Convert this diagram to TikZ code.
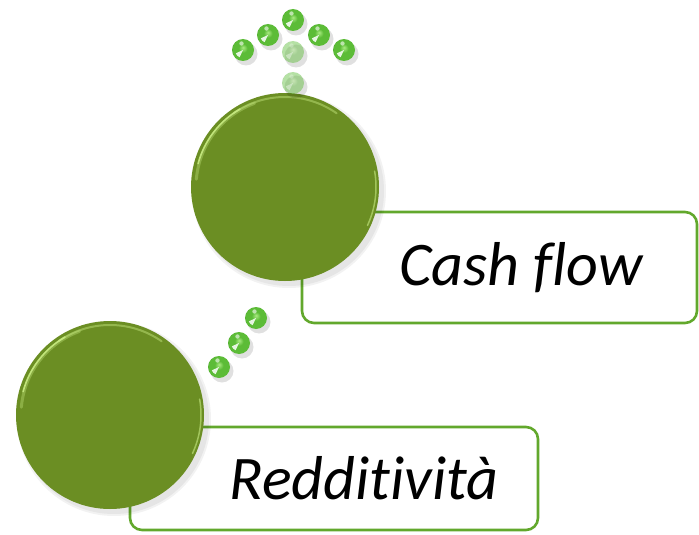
\documentclass[tikz,border=0pt]{standalone}
\usepackage{fontspec}
\setmainfont{Carlito}[Ligatures={NoCommon,NoContextual}]
\definecolor{olive}{RGB}{107,142,35}
\definecolor{rimlight}{RGB}{200,235,130}
\definecolor{boxgreen}{RGB}{98,168,44}
\definecolor{beadlight}{RGB}{170,235,130}
\definecolor{beadgreen}{RGB}{92,188,55}
\definecolor{beaddark}{RGB}{55,140,30}
\pgfdeclareradialshading{beadshade}{\pgfpoint{0bp}{6bp}}{%
  color(0bp)=(beadlight); color(10bp)=(beadgreen);
  color(24bp)=(beadgreen); color(30bp)=(beaddark)}
\tikzset{
  bigdisc/.style={circle, minimum size=188pt, inner sep=0pt, fill=olive},
  labelbox/.style={draw=boxgreen, line width=2.6pt, rounded corners=12pt, fill=white},
  bead/.style={circle, minimum size=22pt, inner sep=0pt, shading=beadshade},
  palebead/.style={bead, opacity=0.45},
  beadshadow/.style={fill=black, opacity=0.12},
  glint/.style={fill=white, opacity=0.85},
  labeltext/.style={font=\fontsize{62}{70}\selectfont\itshape, anchor=base, inner sep=0pt}
}
\begin{document}
\begin{tikzpicture}[x=1pt,y=-1pt]
\useasboundingbox (0,0) rectangle (699,535);
% label boxes
\draw[labelbox] (302,212) rectangle (697,323);
\draw[labelbox] (130,427) rectangle (538,530);
\node[labeltext] (cash) at (521,285) {Cash flow};
\node[labeltext] (redd) at (364,499) {Redditività};
% shadows of discs
\foreach \c in {(289,191),(114,419)}{
  \fill[black, opacity=0.05] \c circle (97);
  \fill[black, opacity=0.05] \c circle (95);
}
% discs
\node[bigdisc] (top) at (285,187) {};
\node[bigdisc] (bot) at (110,415) {};
% rim highlights (angles mirrored because y points down)
\foreach \n in {top,bot}{
  \draw[rimlight, line width=3pt, opacity=0.35, line cap=round]
    ([shift={(185:89)}]\n.center) arc[start angle=185, end angle=250, radius=89];
  \draw[rimlight, line width=1.6pt, opacity=0.9, line cap=round]
    ([shift={(195:90)}]\n.center) arc[start angle=195, end angle=240, radius=90];
  \draw[rimlight, line width=2pt, opacity=0.45, line cap=round]
    ([shift={(-55:90)}]\n.center) arc[start angle=-55, end angle=-125, radius=90];
  \draw[rimlight, line width=1.5pt, opacity=0.6, line cap=round]
    ([shift={(-10:91)}]\n.center) arc[start angle=-10, end angle=25, radius=91];
}
% bead shadows
\foreach \x/\y in {293/20,268/35,319/35,243/50,344/50,293/52,293/83,256/318,239/343,219/367}{
  \fill[beadshadow] (\x+3,\y+4) circle (11.5);
}
% arrow of beads
\node[bead] (b1) at (293,20) {};
\node[bead] (b2) at (268,35) {};
\node[bead] (b3) at (319,35) {};
\node[bead] (b4) at (243,50) {};
\node[bead] (b6) at (344,50) {};
\node[palebead] (b5) at (293,52) {};
\node[palebead] (b7) at (293,83) {};
% beads between discs
\node[bead] (m1) at (256,318) {};
\node[bead] (m2) at (239,343) {};
\node[bead] (m3) at (219,367) {};
% glints: lower-left wedge and a small top spot
\foreach \n/\o in {b1/0.85,b2/0.85,b3/0.85,b4/0.85,b6/0.85,m1/0.85,m2/0.85,m3/0.85,b5/0.4,b7/0.4}{
  \fill[white, opacity=\o] (\n.center) -- ([shift={(155:8)}]\n.center)
     arc[start angle=155, end angle=115, radius=8] -- cycle;
  \fill[white, opacity=\o*0.7] ([shift={(-1.5,-6.5)}]\n.center) circle (2.2);
}
\end{tikzpicture}
\end{document}
